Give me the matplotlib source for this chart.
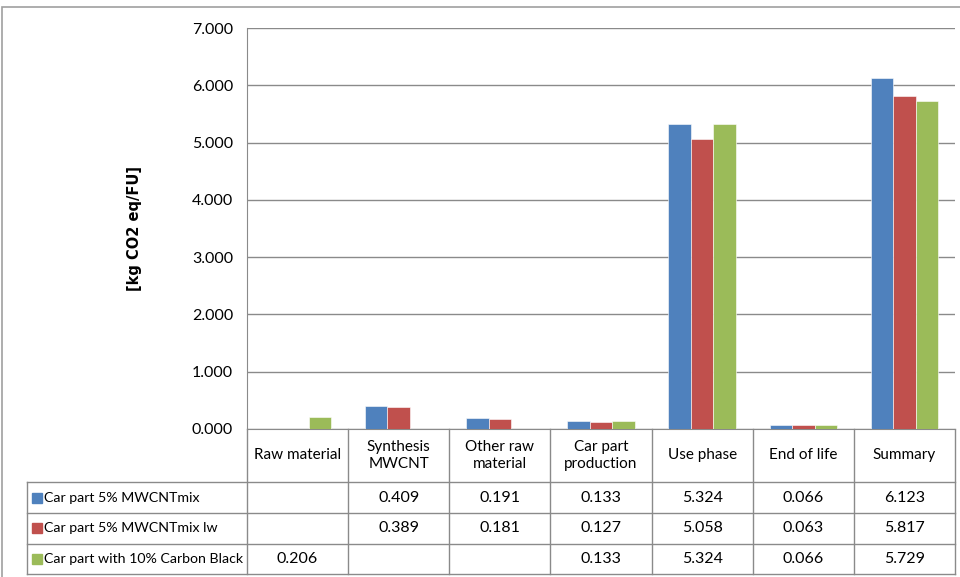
import matplotlib.pyplot as plt
import matplotlib.patches as mpatches
from matplotlib.lines import Line2D
import numpy as np

# life cycle stages and the three car part variants
stages = ["Raw material", "Synthesis\nMWCNT", "Other raw\nmaterial", "Car part\nproduction",
          "Use phase", "End of life", "Summary"]
series_names = ["Car part 5% MWCNTmix", "Car part 5% MWCNTmix lw", "Car part with 10% Carbon Black"]
mwcnt_mix = [None, 0.409, 0.191, 0.133, 5.324, 0.066, 6.123]
mwcnt_mix_lw = [None, 0.389, 0.181, 0.127, 5.058, 0.063, 5.817]
carbon_black = [0.206, None, None, 0.133, 5.324, 0.066, 5.729]
colors = ["#4F81BD", "#C0504D", "#9BBB59"]
yticks = [0, 1, 2, 3, 4, 5, 6, 7]

plt.rcParams['font.family'] = ['Lato', 'DejaVu Sans']
FS = 11.5
GRID = "#8a8a8a"

W, H = 960, 577
fig = plt.figure(figsize=(W / 100, H / 100), dpi=100)

# outer chart border
fig.patches.append(mpatches.Rectangle((1.5 / W, -0.1), 1.2, 1 - 6.5 / H + 0.1, transform=fig.transFigure,
                                      fill=False, edgecolor="#a0a0a0", linewidth=1.2))

ax = fig.add_axes([247 / W, 1 - 429 / H, (955 - 247) / W, (429 - 28) / H])

x = np.arange(len(stages))
bw = 0.2225
all_series = [mwcnt_mix, mwcnt_mix_lw, carbon_black]
for k, vals in enumerate(all_series):
    v = np.array([np.nan if a is None else a for a in vals])
    ax.bar(x + (k - 1) * bw, v, width=bw, color=colors[k], edgecolor="white",
           linewidth=0.4, zorder=3)

ax.set_xlim(-0.5, len(stages) - 0.5)
ax.set_ylim(0, 7)
ax.set_yticks(yticks)
ax.set_yticklabels(["%.3f" % t for t in yticks], fontsize=FS)
ax.tick_params(axis="y", length=0, pad=10)
ax.set_xticks([])
ax.grid(axis="y", color=GRID, linewidth=1, zorder=0)
for s in ["top", "right"]:
    ax.spines[s].set_visible(False)
ax.spines["left"].set_color(GRID)
ax.spines["bottom"].set_color(GRID)

ax.set_ylabel("[kg CO2 eq/FU]", fontsize=10.5, fontweight="bold", family="DejaVu Sans", labelpad=36)

# data table below the plot area
tr = ax.get_xaxis_transform()
left = -2.675
y_head = -0.132
row_lines = [-0.209, -0.287, -0.362]
row_mid = [-0.171, -0.248, -0.324]

def hline(y, x0, x1):
    ax.add_line(Line2D([x0, x1], [y, y], transform=tr, color=GRID, lw=1, clip_on=False))

def vline(xv, y0, y1):
    ax.add_line(Line2D([xv, xv], [y0, y1], transform=tr, color=GRID, lw=1, clip_on=False))

hline(y_head, left, len(stages) - 0.5)
for y in row_lines:
    hline(y, left, len(stages) - 0.5)
for i in range(len(stages) + 1):
    vline(i - 0.5, 0, row_lines[-1])
vline(left, y_head, row_lines[-1])

for i, name in enumerate(stages):
    ax.text(i, -0.066, name, transform=tr, ha="center", va="center", fontsize=11,
            linespacing=1.2, clip_on=False)

for k, vals in enumerate(all_series):
    ax.add_patch(mpatches.Rectangle((left + 0.05, row_mid[k] - 0.0125), 0.099, 0.025,
                                    transform=tr, color=colors[k], clip_on=False))
    ax.text(left + 0.165, row_mid[k], series_names[k], transform=tr, ha="left", va="center",
            fontsize=10.2, clip_on=False)
    for i, v in enumerate(vals):
        if v is not None:
            ax.text(i, row_mid[k], "%.3f" % v, transform=tr, ha="center", va="center",
                    fontsize=FS, clip_on=False)

fig.savefig("out.png", dpi=100)
